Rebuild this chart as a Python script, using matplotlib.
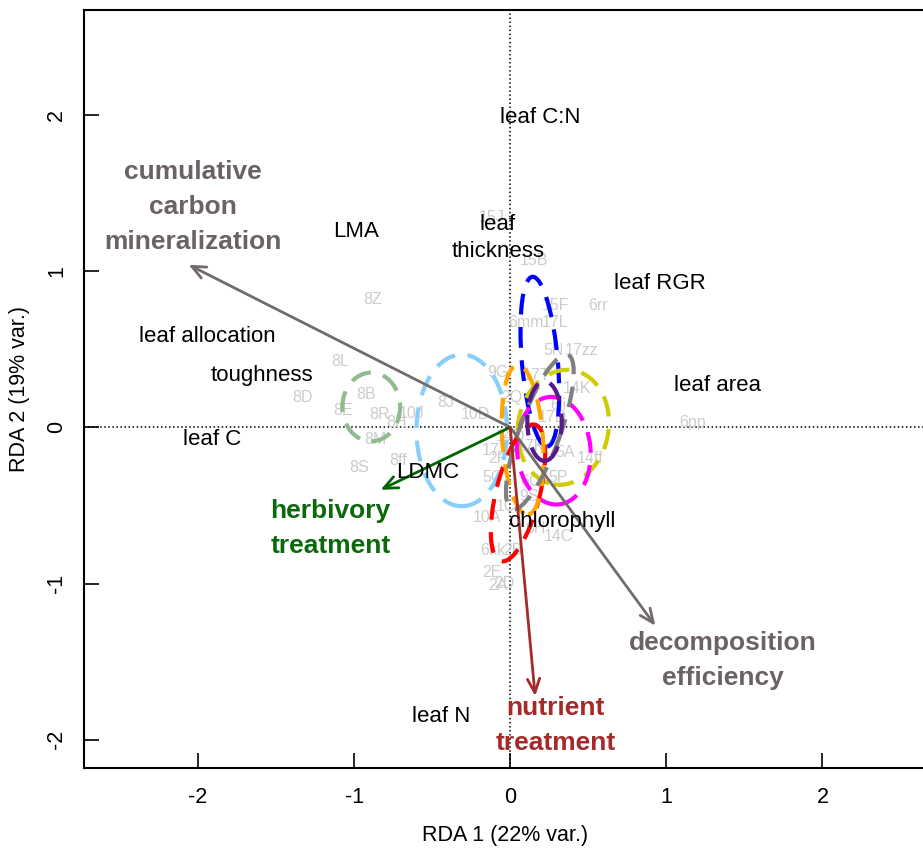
import numpy as np
import matplotlib
matplotlib.use('Agg')
import matplotlib.pyplot as plt
from matplotlib.patches import Ellipse

plt.rcParams['font.family'] = ['Liberation Sans', 'DejaVu Sans']

## Site scores (grey labels)
site_names = ['15J', '15B', '15F', '6rr', '6mm', '17L', '8Z', '8L', '8D', '8B',
              '8E', '8R', '10J', '8H', '8M', '8S', '8ff', '8J', '10D', '9G',
              '5N', '17zz', '17T', '14K', '6ii', '2Q', '17D', '6pp', '14D', '17X',
              '2F', '17K', '5A', '14ff', '5C', '5P', '6C', '9S', '1C', '10A',
              '14C', '6H', '6kk', '2B', '2E', '2A', '2D']
site_x = [-0.12, 0.15, 0.29, 0.56, 0.10, 0.29, -0.88, -1.09, -1.33, -0.92,
          -1.07, -0.84, -0.63, -0.73, -0.86, -0.97, -0.72, -0.41, -0.22, -0.08,
          0.28, 0.46, 0.17, 0.43, 0.31, 0.01, 0.27, 1.17, 0.00, -0.09,
          -0.08, 0.13, 0.35, 0.51, -0.11, 0.31, 0.13, 0.12, -0.03, -0.15,
          0.31, 0.16, -0.11, 0.02, -0.12, -0.08, -0.04]
site_y = [1.34, 1.07, 0.78, 0.78, 0.67, 0.67, 0.82, 0.42, 0.19, 0.21,
          0.11, 0.08, 0.09, 0.03, -0.08, -0.26, -0.21, 0.16, 0.08, 0.35,
          0.49, 0.49, 0.33, 0.25, 0.14, 0.19, 0.06, 0.03, -0.06, -0.15,
          -0.20, -0.12, -0.16, -0.20, -0.32, -0.32, -0.35, -0.44, -0.51, -0.58,
          -0.70, -0.65, -0.79, -0.79, -0.93, -1.01, -1.00]

## Species (trait) scores
trait_names = ['leaf C:N', 'LMA', 'leaf\nthickness', 'leaf RGR', 'leaf allocation',
               'toughness', 'leaf area', 'leaf C', 'LDMC', 'chlorophyll', 'leaf N']
trait_x = [0.19, -0.99, -0.08, 0.96, -1.94, -1.59, 1.33, -1.91, -0.53, 0.33, -0.44]
trait_y = [1.98, 1.25, 1.21, 0.92, 0.58, 0.33, 0.27, -0.08, -0.29, -0.60, -1.85]

## Explanatory / response vectors
vec_names = ['cumulative\ncarbon\nmineralization', 'decomposition\nefficiency',
             'herbivory\ntreatment', 'nutrient\ntreatment']
vec_x = [-2.06, 0.93, -0.83, 0.16]
vec_y = [1.04, -1.27, -0.40, -1.72]
vec_lab_x = [-2.03, 1.36, -1.15, 0.29]
vec_lab_y = [1.41, -1.49, -0.65, -1.91]
vec_cols = ['#736b6b', '#736b6b', '#006400', '#a52a2a']
vec_text_cols = ['#6b6363', '#6b6363', '#0a6a0a', '#a52a2a']

## Group ellipses
ell_cx = [-0.89, -0.31, 0.19, 0.34, 0.28, 0.05, 0.08, 0.19, 0.22]
ell_cy = [0.13, -0.02, 0.42, 0.00, -0.15, -0.42, -0.08, -0.03, 0.04]
ell_w = [0.37, 0.58, 0.23, 0.58, 0.47, 0.90, 0.26, 1.05, 0.22]
ell_h = [0.44, 0.97, 1.09, 0.74, 0.69, 0.28, 0.96, 0.26, 0.51]
ell_ang = [0, 0, 5, -10, 5, 76, 4, 70, 0]
ell_cols = ['#8fbc8f', '#87cefa', '#0000ff', '#cdcd00', '#ff00ff', '#ff0000',
            '#ffa500', '#808080', '#551a8b']

fig = plt.figure(figsize=(9.23, 8.48), dpi=100)
ax = fig.add_axes([84/923, 1 - 768/848, 843/923, 758/848])
ax.set_xlim(-2.73, 2.67)
ax.set_ylim(-2.18, 2.67)

ax.axhline(0, color='black', lw=1.1, ls=':', zorder=1)
ax.axvline(0, color='black', lw=1.1, ls=':', zorder=1)

for n, x, y in zip(site_names, site_x, site_y):
    ax.text(x, y, n, color='#cccccc', fontsize=11.5, ha='center', va='center', zorder=2)

for cx, cy, w, h, a, c in zip(ell_cx, ell_cy, ell_w, ell_h, ell_ang, ell_cols):
    e = Ellipse((cx, cy), w, h, angle=a, fill=False, edgecolor=c, lw=3,
                linestyle=(0, (5, 3)), zorder=3)
    ax.add_patch(e)

for x, y, c in zip(vec_x, vec_y, vec_cols):
    ax.annotate('', xy=(x, y), xytext=(0, 0),
                arrowprops=dict(arrowstyle='->,head_length=0.5,head_width=0.22',
                                color=c, lw=2, shrinkA=0, shrinkB=0, mutation_scale=20),
                zorder=4)

for n, x, y in zip(trait_names, trait_x, trait_y):
    ax.text(x, y, n, color='black', fontsize=16, ha='center', va='center',
            linespacing=1.35, zorder=5)

for n, x, y, c in zip(vec_names, vec_lab_x, vec_lab_y, vec_text_cols):
    ax.text(x, y, n, color=c, fontsize=19, fontweight='bold', ha='center', va='center',
            linespacing=1.58, zorder=5)

ax.set_xticks([-2, -1, 0, 1, 2])
ax.set_yticks([-2, -1, 0, 1, 2])
ax.set_xticklabels(['-2', '-1', '0', '1', '2'])
ax.set_yticklabels(['-2', '-1', '0', '1', '2'], rotation=90, va='center')
ax.tick_params(direction='in', length=11, width=1.2, labelsize=15.5)
ax.tick_params(axis='x', pad=14)
ax.tick_params(axis='y', pad=12)
for s in ax.spines.values():
    s.set_linewidth(1.5)
ax.set_xlabel('RDA 1 (22% var.)', fontsize=15.5, labelpad=12)
ax.set_ylabel('RDA 2 (19% var.)', fontsize=15.5, labelpad=12)

fig.savefig('out.png', dpi=100)
